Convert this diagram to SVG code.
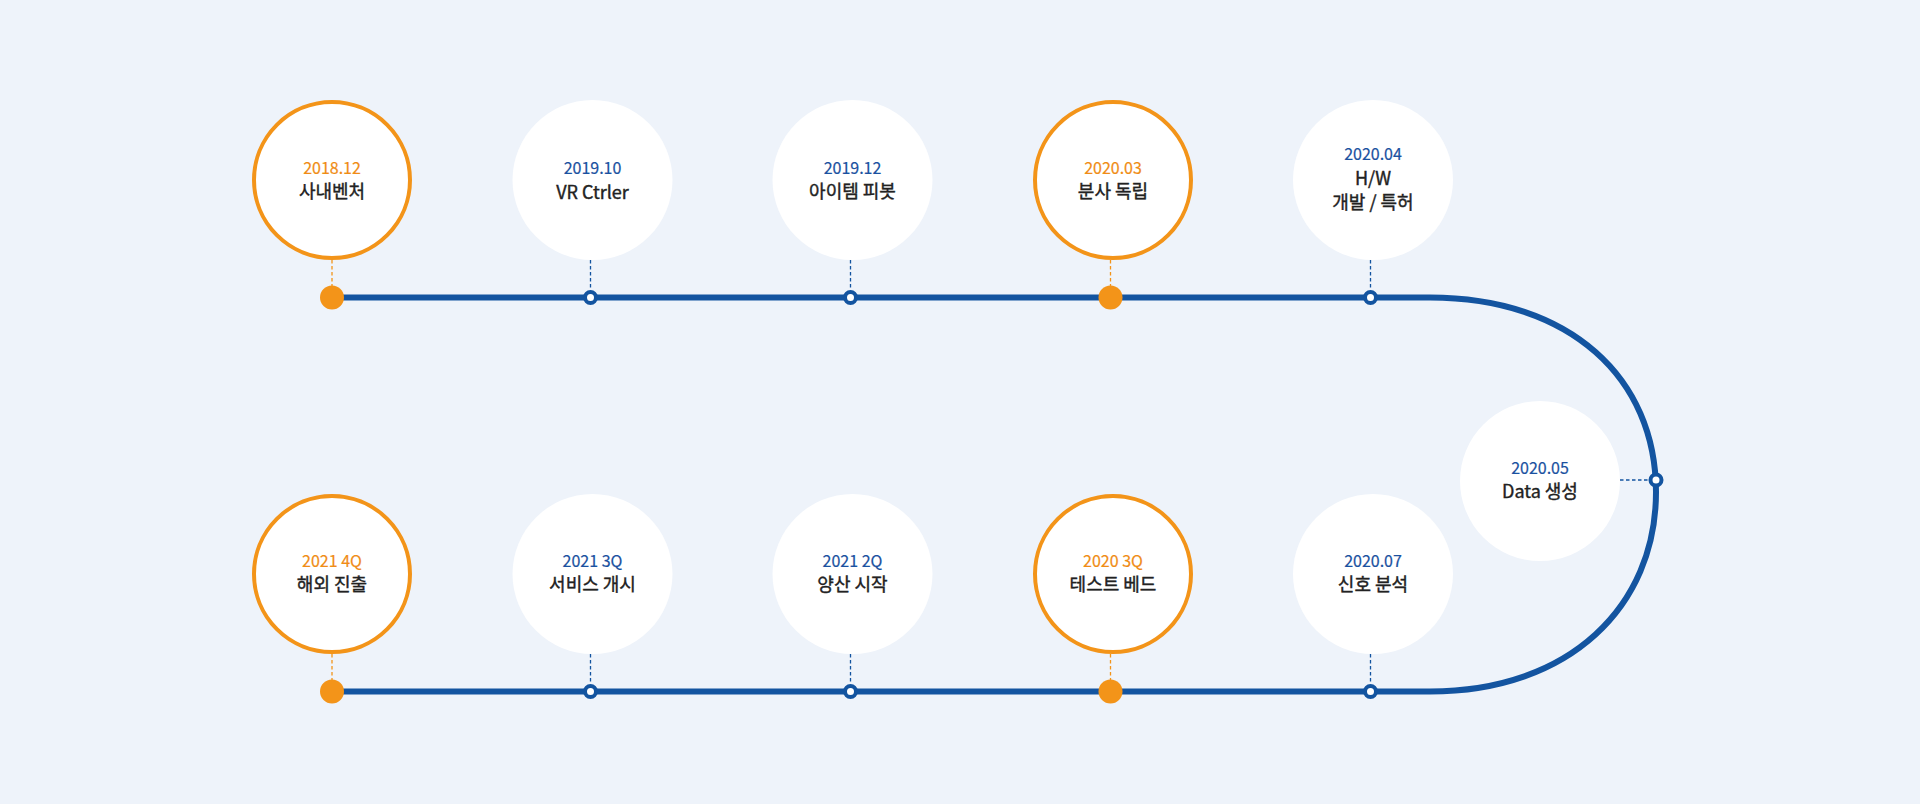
<svg xmlns="http://www.w3.org/2000/svg" width="1920" height="804" viewBox="0 0 1920 804">
<style>
.bg{fill:#EEF3FA}
.cw{fill:#FFFFFF}
.co{fill:#FFFFFF;stroke:#F39419;stroke-width:4}
.track{fill:none;stroke:#1354A0;stroke-width:6}
.dashb{stroke:#1354A0;stroke-width:1.3;stroke-dasharray:3.5 2.5;fill:none}
.dasho{stroke:#F39419;stroke-width:1.3;stroke-dasharray:3.5 2.5;fill:none}
.nb{fill:#FFFFFF;stroke:#1354A0;stroke-width:4}
.no{fill:#F39419}
text{font-family:"Noto Sans CJK KR","Noto Sans",sans-serif;text-anchor:middle}
.d{font-size:16px;font-weight:400}
.db{fill:#1A51A0;stroke:#1A51A0;stroke-width:0.2}
.dor{fill:#F08C15;stroke:#F08C15;stroke-width:0.2}
.t{font-size:18px;font-weight:400;fill:#222222;stroke:#222222;stroke-width:0.4}
</style>
<rect class="bg" x="0" y="0" width="1920" height="804"/>
<g id="connectors">
<path class="track" d="M332,297.5 L1430,297.5 C1570,297.5 1656,378 1656,492 C1656,606 1570,691.5 1430,691.5 L332,691.5"/>
<line class="dasho" x1="332" y1="260" x2="332" y2="286"/>
<line class="dashb" x1="590.5" y1="260" x2="590.5" y2="290"/>
<line class="dashb" x1="850.5" y1="260" x2="850.5" y2="290"/>
<line class="dasho" x1="1110.5" y1="260" x2="1110.5" y2="286"/>
<line class="dashb" x1="1370.5" y1="260" x2="1370.5" y2="290"/>
<line class="dashb" x1="1620" y1="480" x2="1649" y2="480"/>
<line class="dasho" x1="332" y1="654" x2="332" y2="680"/>
<line class="dashb" x1="590.5" y1="654" x2="590.5" y2="684"/>
<line class="dashb" x1="850.5" y1="654" x2="850.5" y2="684"/>
<line class="dasho" x1="1110.5" y1="654" x2="1110.5" y2="680"/>
<line class="dashb" x1="1370.5" y1="654" x2="1370.5" y2="684"/>
</g>
<g id="n1">
<circle class="co" cx="332" cy="180" r="78"/>
<text class="d dor" x="332" y="173.5">2018.12</text>
<text class="t" x="332" y="197.5">사내벤처</text>
<circle class="no" cx="332" cy="297.5" r="12"/>
</g>
<g id="n2">
<circle class="cw" cx="592.5" cy="180" r="80"/>
<text class="d db" x="592.5" y="173.5">2019.10</text>
<text class="t" x="592.5" y="198.5">VR Ctrler</text>
<circle class="nb" cx="590.5" cy="297.5" r="5.5"/>
</g>
<g id="n3">
<circle class="cw" cx="852.5" cy="180" r="80"/>
<text class="d db" x="852.5" y="173.5">2019.12</text>
<text class="t" x="852.5" y="197.5">아이템 피봇</text>
<circle class="nb" cx="850.5" cy="297.5" r="5.5"/>
</g>
<g id="n4">
<circle class="co" cx="1113" cy="180" r="78"/>
<text class="d dor" x="1113" y="173.5">2020.03</text>
<text class="t" x="1113" y="197.5">분사 독립</text>
<circle class="no" cx="1110.5" cy="297.5" r="12"/>
</g>
<g id="n5">
<circle class="cw" cx="1373" cy="180" r="80"/>
<text class="d db" x="1373" y="159.5">2020.04</text>
<text class="t" x="1373" y="184.5">H/W</text>
<text class="t" x="1373" y="208.5">개발 / 특허</text>
<circle class="nb" cx="1370.5" cy="297.5" r="5.5"/>
</g>
<g id="n6">
<circle class="cw" cx="1540" cy="481" r="80"/>
<text class="d db" x="1540" y="474">2020.05</text>
<text class="t" x="1540" y="498">Data 생성</text>
<circle class="nb" cx="1656" cy="480" r="5.5"/>
</g>
<g id="n7">
<circle class="cw" cx="1373" cy="574" r="80"/>
<text class="d db" x="1373" y="567">2020.07</text>
<text class="t" x="1373" y="591">신호 분석</text>
<circle class="nb" cx="1370.5" cy="691.5" r="5.5"/>
</g>
<g id="n8">
<circle class="co" cx="1113" cy="574" r="78"/>
<text class="d dor" x="1113" y="567">2020 3Q</text>
<text class="t" x="1113" y="591">테스트 베드</text>
<circle class="no" cx="1110.5" cy="691.5" r="12"/>
</g>
<g id="n9">
<circle class="cw" cx="592.5" cy="574" r="80"/>
<text class="d db" x="592.5" y="567">2021 3Q</text>
<text class="t" x="592.5" y="591">서비스 개시</text>
<circle class="nb" cx="590.5" cy="691.5" r="5.5"/>
</g>
<g id="n10">
<circle class="cw" cx="852.5" cy="574" r="80"/>
<text class="d db" x="852.5" y="567">2021 2Q</text>
<text class="t" x="852.5" y="591">양산 시작</text>
<circle class="nb" cx="850.5" cy="691.5" r="5.5"/>
</g>
<g id="n11">
<circle class="co" cx="332" cy="574" r="78"/>
<text class="d dor" x="332" y="567">2021 4Q</text>
<text class="t" x="332" y="591">해외 진출</text>
<circle class="no" cx="332" cy="691.5" r="12"/>
</g>
</svg>
